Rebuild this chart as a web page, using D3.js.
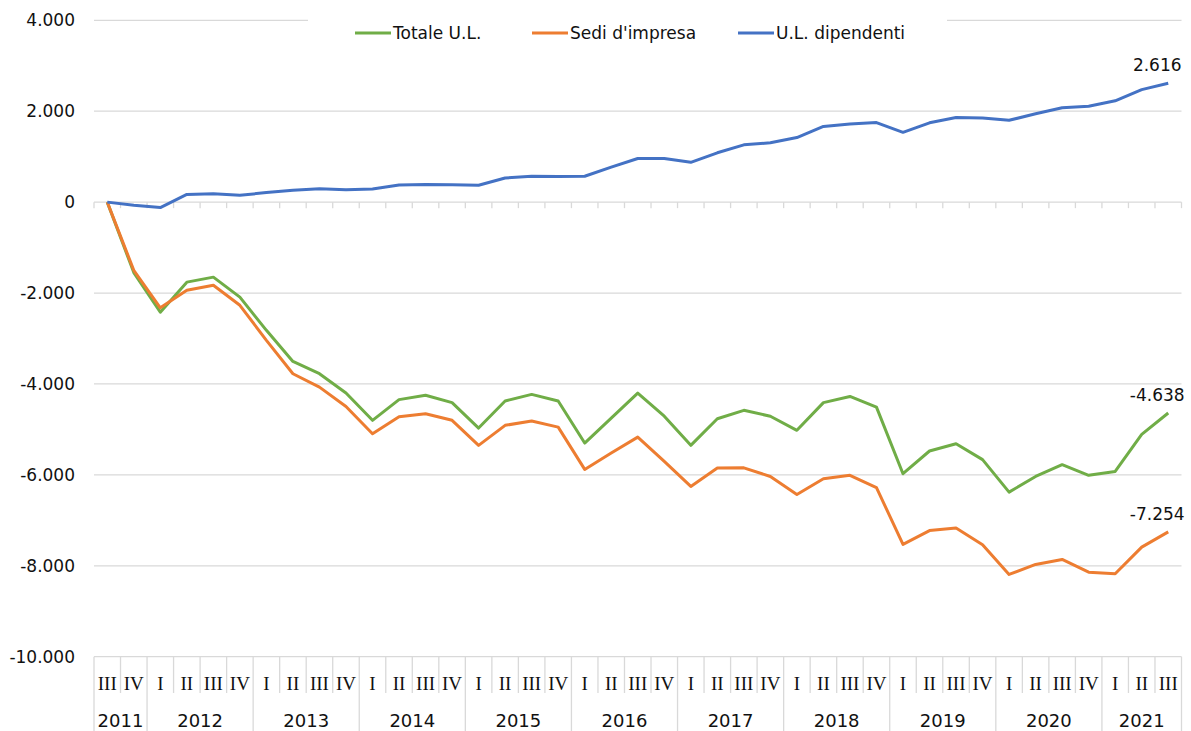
<!DOCTYPE html>
<html>
<head>
<meta charset="utf-8">
<script src="https://cdn.jsdelivr.net/npm/d3@7"></script>
<style>
  body { margin: 0; background: #fff; }
  svg { display: block; }
</style>
</head>
<body>
<div id="chart"></div>
<script>
// ------------------------------------------------------------------------ //
// DATA
// ------------------------------------------------------------------------ //

// quarters from 2011 III to 2021 III
var quarterLabels = ["III", "IV",
  "I", "II", "III", "IV",  "I", "II", "III", "IV",  "I", "II", "III", "IV",
  "I", "II", "III", "IV",  "I", "II", "III", "IV",  "I", "II", "III", "IV",
  "I", "II", "III", "IV",  "I", "II", "III", "IV",  "I", "II", "III", "IV",
  "I", "II", "III"]
var yearLabels = ["2011", "2012", "2013", "2014", "2015", "2016", "2017", "2018", "2019", "2020", "2021"]

var totaleUL = [0, -1550, -2420, -1760, -1650, -2090, -2820, -3505, -3775, -4200,
  -4800, -4345, -4250, -4410, -4970, -4375, -4230, -4375, -5300, -4750,
  -4200, -4710, -5350, -4765, -4580, -4710, -5020, -4410, -4275, -4510,
  -5975, -5475, -5315, -5665, -6380, -6035, -5775, -6010, -5925, -5110, -4638]
var sediImpresa = [0, -1500, -2325, -1940, -1830, -2270, -3040, -3775, -4070, -4495,
  -5095, -4720, -4655, -4800, -5350, -4910, -4815, -4950, -5880, -5520,
  -5170, -5705, -6255, -5850, -5845, -6035, -6430, -6085, -6010, -6280,
  -7530, -7225, -7170, -7535, -8190, -7970, -7860, -8140, -8175, -7590, -7254]
var ulDipendenti = [0, -70, -120, 170, 185, 150, 210, 260, 295, 275,
  290, 375, 390, 385, 370, 530, 570, 565, 570, 770,
  960, 960, 875, 1085, 1260, 1305, 1420, 1665, 1720, 1750,
  1535, 1745, 1860, 1850, 1800, 1945, 2075, 2110, 2230, 2475, 2616]

var seriesNames = ["Totale U.L.", "Sedi d'impresa", "U.L. dipendenti"]
var seriesColors = ["#70AD47", "#ED7D31", "#4472C4"]
var yTicks = [4000, 2000, 0, -2000, -4000, -6000, -8000, -10000]

// ------------------------------------------------------------------------ //
// SVG AREA
// ------------------------------------------------------------------------ //

var W = 1191, H = 731
var margin = {top: 20.3, left: 94, right: 10, bottom: 74.3}
var plotBottom = H - margin.bottom

var svg = d3.select("#chart")
  .append("svg")
    .attr("width", W)
    .attr("height", H)
    .style("font-family", "'DejaVu Sans', sans-serif")

// build period keys (year of each quarter)
var periods = []
var yi = 0
quarterLabels.forEach(function(q, i) {
  if (q == "I" && i > 0) yi++
  periods.push({key: yearLabels[yi] + "-" + q + "-" + i, q: q, year: yearLabels[yi], i: i})
})

// ------------------------------------------------------------------------ //
// AXIS AND SCALES
// ------------------------------------------------------------------------ //

var x = d3.scaleBand()
  .domain(periods.map(function(d) { return d.key }))
  .range([margin.left, 1181.5])
  .padding(0)

var y = d3.scaleLinear()
  .domain([-10000, 4000])
  .range([plotBottom, margin.top])

var itLocale = d3.formatLocale({decimal: ",", thousands: ".", grouping: [3], currency: ["€", ""], minus: "-"})
var fmt = itLocale.format(",d")

// gridlines
svg.append("g")
  .selectAll("line")
  .data(yTicks)
  .enter()
  .append("line")
    .attr("x1", margin.left)
    .attr("x2", x.range()[1])
    .attr("y1", function(d) { return y(d) })
    .attr("y2", function(d) { return y(d) })
    .style("stroke", "#d9d9d9")
    .style("stroke-width", 1.3)

// y labels
var yAxis = svg.append("g")
  .attr("transform", "translate(" + margin.left + ",0)")
  .call(d3.axisLeft(y).tickValues(yTicks).tickFormat(fmt).tickSize(0).tickPadding(19))
yAxis.select(".domain").remove()
yAxis.selectAll("text")
  .style("font-size", "17px")
  .style("font-family", "'DejaVu Sans', sans-serif")
  .style("fill", "#111")

// tick marks on the zero line
var bounds = periods.map(function(d) { return x(d.key) }).concat([x.range()[1]])
svg.append("g")
  .selectAll("line")
  .data(bounds)
  .enter()
  .append("line")
    .attr("x1", function(d) { return d })
    .attr("x2", function(d) { return d })
    .attr("y1", y(0))
    .attr("y2", y(0) + 6)
    .style("stroke", "#d9d9d9")
    .style("stroke-width", 1.3)

// two-level category labels at the bottom
var catG = svg.append("g")
catG.selectAll("line")
  .data(bounds)
  .enter()
  .append("line")
    .attr("x1", function(d) { return d })
    .attr("x2", function(d) { return d })
    .attr("y1", plotBottom)
    .attr("y2", function(d, i) {
      var isYear = i == 0 || i == periods.length || periods[i].q == "I"
      return isYear ? H : 693
    })
    .style("stroke", "#d9d9d9")
    .style("stroke-width", 1.3)

catG.selectAll(".qLabel")
  .data(periods)
  .enter()
  .append("text")
    .attr("class", "qLabel")
    .attr("x", function(d) { return x(d.key) + x.bandwidth() / 2 })
    .attr("y", 690)
    .style("text-anchor", "middle")
    .style("font-family", "'Liberation Serif', serif")
    .style("font-size", "19px")
    .style("fill", "#111")
    .text(function(d) { return d.q })

var yearGroups = d3.groups(periods, function(d) { return d.year })
catG.selectAll(".yLabel")
  .data(yearGroups)
  .enter()
  .append("text")
    .attr("class", "yLabel")
    .attr("x", function(d) {
      var first = d[1][0], last = d[1][d[1].length - 1]
      return (x(first.key) + x(last.key) + x.bandwidth()) / 2
    })
    .attr("y", 727)
    .style("text-anchor", "middle")
    .style("font-family", "'DejaVu Sans', sans-serif")
    .style("font-size", "18px")
    .style("fill", "#111")
    .text(function(d) { return d[0] })

// ------------------------------------------------------------------------ //
// SHAPES
// ------------------------------------------------------------------------ //

var allSeries = [totaleUL, sediImpresa, ulDipendenti]

var line = d3.line()
  .x(function(d, i) { return x(periods[i].key) + x.bandwidth() / 2 })
  .y(function(d) { return y(d) })

svg.append("g")
  .selectAll("path")
  .data(allSeries)
  .enter()
  .append("path")
    .attr("d", function(d) { return line(d) })
    .style("fill", "none")
    .style("stroke", function(d, i) { return seriesColors[i] })
    .style("stroke-width", 3)
    .style("stroke-linejoin", "round")

// labels on the last point (Excel pulls them left to stay inside the chart)
var lastIdx = periods.length - 1
svg.append("g")
  .selectAll("text")
  .data(allSeries)
  .enter()
  .append("text")
    .attr("x", x(periods[lastIdx].key) + x.bandwidth() / 2 - 11)
    .attr("y", function(d) { return y(d[lastIdx]) - 12 })
    .style("text-anchor", "middle")
    .style("font-size", "17px")
    .style("fill", "#111")
    .text(function(d) { return fmt(d[lastIdx]) })

// ------------------------------------------------------------------------ //
// LEGEND
// ------------------------------------------------------------------------ //

var legendX = [355, 532, 738]
var legend = svg.append("g")
legend.append("rect")
  .attr("x", 308)
  .attr("y", 14)
  .attr("width", 639)
  .attr("height", 38)
  .style("fill", "#fff")

var items = legend.selectAll(".item")
  .data(seriesNames)
  .enter()
  .append("g")
    .attr("class", "item")
    .attr("transform", function(d, i) { return "translate(" + legendX[i] + ",33)" })
items.append("line")
  .attr("x1", 0)
  .attr("x2", 36)
  .style("stroke", function(d, i) { return seriesColors[i] })
  .style("stroke-width", 3)
items.append("text")
  .attr("x", 38)
  .attr("dy", "0.35em")
  .style("font-size", "17px")
  .style("fill", "#111")
  .text(function(d) { return d })
</script>
</body>
</html>
